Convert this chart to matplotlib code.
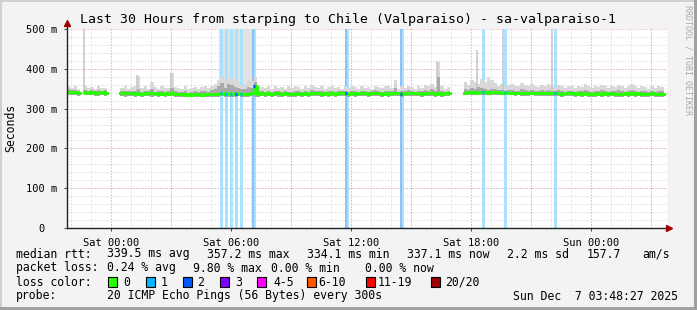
import numpy as np
import matplotlib
matplotlib.use('Agg')
import matplotlib.pyplot as plt
from matplotlib.patches import Rectangle

nan = np.nan

# ==============================
# data (10 minute bins, 30 hours, start Fri 21:48)
# ==============================
median = [341, 342, 341, 340, nan,
          341, 340, 341, 340, 339, 341, 340,
          nan, nan, nan, nan,
          339, 338, 339, 338, 337,
          338, 337, 338, 339, 338, 337, 338, 337, 338, 337,
          338, 337, 337, 336, 335, 336, 334, 336, 336, 335, 336, 337, 336, 337,
          337, 338, 336, 340, 337, 337, 338, 337, 336, 337, 339, 357, 337,
          338, 337, 338, 337, 338, 338, 337, 338, 337, 336, 337, 338, 337, 338, 337, 338, 339, 338, 337, 338, 337, 338, 337,
          338, 339, 338, 337, 338, 337, 338, 339, 338, 337, 338, 339, 338, 337, 338, 337, 338, 339, 338, 337,
          338, 339, 338, 339, 338, 337, 338, 339, 338, 337, 338, 337, 338, 338,
          nan, nan, nan, nan,
          340, 341, 341, 340, 341, 342, 341, 340, 341, 342, 341, 340, 341, 340,
          340, 339, 340, 339, 338, 339, 340, 339, 338, 339, 338, 339, 338, 339, 338, 337, 338, 339,
          338, 337, 338, 337, 338, 337, 336, 337, 338, 337, 338, 337, 338, 337, 336, 337, 338, 337, 338, 337, 338, 337, 336, 337, 338, 337, 336, 337,
          nan]

smoke_hi = [358, 352, 356, 350, nan,
            356, 352, 354, 350, 356, 352, 353,
            nan, nan, nan, nan,
            352, 356, 350, 355, 358,
            382, 352, 356, 350, 366, 354, 350, 356, 352, 351,
            390, 355, 352, 350, 356, 350, 352, 355, 350, 354, 356, 352, 358, 362,
            372, 380, 370, 378, 376, 372, 368, 360, 362, 372, 370, 380, 356,
            354, 352, 358, 350, 356, 352, 354, 350, 356, 352, 358, 354, 350, 356, 352, 360, 354, 352, 356, 350, 354, 358, 352,
            354, 350, 356, 352, 358, 354, 350, 356, 352, 354, 350, 358, 354, 352, 356, 356, 352, 372, 350, 356,
            352, 358, 354, 350, 356, 352, 360, 356, 362, 354, 418, 356, 350, 354,
            nan, nan, nan, nan,
            367, 360, 372, 368, 362, 374, 366, 380, 372, 364, 358, 362, 356, 360,
            362, 358, 356, 364, 360, 356, 362, 358, 354, 360, 356, 362, 358, 354, 360, 356, 352, 358,
            356, 352, 358, 354, 362, 356, 352, 358, 354, 360, 356, 352, 358, 354, 360, 356, 352, 358, 362, 356, 352, 358, 354, 350, 356, 352, 358, 354,
            nan]

smoke_mid = [348, 347, 346, 345, nan,
             347, 345, 346, 344, 346, 345, 346,
             nan, nan, nan, nan,
             344, 343, 345, 343, 344,
             350, 342, 344, 343, 348, 342, 343, 345, 342, 343,
             352, 343, 342, 341, 344, 340, 342, 344, 341, 343, 345, 342, 346, 350,
             358, 365, 352, 362, 360, 355, 352, 348, 350, 355, 352, 368, 344,
             344, 342, 345, 342, 344, 343, 342, 344, 342, 341, 343, 345, 342, 344, 342, 346, 344, 343, 344, 342, 343, 345, 342,
             343, 344, 345, 342, 344, 343, 342, 345, 343, 342, 343, 346, 344, 342, 344, 344, 343, 352, 342, 344,
             343, 346, 344, 342, 345, 343, 346, 344, 348, 343, 380, 344, 342, 343,
             nan, nan, nan, nan,
             350, 347, 352, 350, 355, 352, 348, 346, 350, 348, 346, 347, 345, 346,
             347, 345, 344, 348, 346, 344, 347, 345, 343, 346, 344, 347, 345, 343, 346, 344, 342, 345,
             344, 342, 345, 343, 346, 344, 342, 345, 343, 346, 344, 342, 345, 343, 346, 344, 342, 345, 347, 344, 342, 345, 343, 341, 344, 342, 345, 343,
             nan]

smoke_lo = [333, 334, 333, 332, nan,
            334, 333, 334, 332, 331, 333, 332,
            nan, nan, nan, nan,
            331, 330, 332, 331, 330,
            331, 330, 331, 332, 330, 331, 330, 331, 330, 331,
            331, 330, 329, 330, 328, 329, 328, 330, 329, 328, 329, 330, 329, 330,
            330, 331, 329, 330, 330, 329, 331, 330, 329, 330, 331, 330, 329,
            331, 330, 331, 330, 331, 330, 329, 331, 330, 329, 330, 331, 330, 331, 330, 331, 332, 331, 330, 331, 330, 331, 330,
            331, 332, 331, 330, 331, 330, 331, 332, 331, 330, 331, 332, 331, 330, 331, 330, 331, 332, 331, 330,
            331, 332, 331, 332, 331, 330, 331, 332, 331, 330, 331, 330, 331, 331,
            nan, nan, nan, nan,
            333, 334, 334, 333, 334, 335, 334, 333, 334, 335, 334, 333, 334, 333,
            333, 332, 333, 332, 331, 332, 333, 332, 331, 332, 331, 332, 331, 332, 331, 330, 331, 332,
            331, 330, 331, 330, 331, 330, 329, 330, 331, 330, 331, 330, 331, 330, 329, 330, 331, 330, 331, 330, 331, 330, 329, 330, 331, 330, 329, 330,
            nan]

# single tall outliers (hours, top in ms)
spike_t = [0.85, 3.5, 5.2, 18.5, 20.5, 21.8, 24.25]
spike_top = [520, 385, 390, 420, 447, 520, 520]

# region of very high rtt during loss
high_start, high_end = 7.6, 9.45

# loss bars (hours)
loss_start = [7.65, 7.90, 8.15, 8.40, 8.65, 9.25, 9.33, 13.90, 14.00, 16.65, 16.75, 20.75, 21.85, 24.35]
loss_end = [7.80, 8.05, 8.30, 8.55, 8.80, 9.33, 9.45, 14.00, 14.10, 16.75, 16.85, 20.90, 22.00, 24.50]
loss_fill = ['#a8e2ff', '#a8e2ff', '#a8e2ff', '#a8e2ff', '#a8e2ff', '#90bff8', '#a8e2ff',
             '#90bff8', '#a8e2ff', '#90bff8', '#a8e2ff', '#a8e2ff', '#a8e2ff', '#a8e2ff']

# median points with loss
loss_pt_t = [7.7, 7.95, 8.2, 8.45, 8.7, 9.35, 13.95, 16.7, 20.8, 21.9, 24.4]
loss_pt_c = ['#00b8ff', '#00b8ff', '#00b8ff', '#0059ff', '#00b8ff', '#0059ff',
             '#0059ff', '#0059ff', '#00b8ff', '#00b8ff', '#00b8ff']

tick_labels = ['Sat 00:00', 'Sat 06:00', 'Sat 12:00', 'Sat 18:00', 'Sun 00:00']
first_midnight = 2.1925
y_labels = ['0  ', '100 m', '200 m', '300 m', '400 m', '500 m']

title = 'Last 30 Hours from starping to Chile (Valparaiso) - sa-valparaiso-1'

legend_rows = [
    [(16, 'median rtt:'), (107, '339.5 ms avg'), (207, '357.2 ms max'), (307, '334.1 ms min'),
     (407, '337.1 ms now'), (507, '2.2 ms sd'), (587, '157.7'), (642, 'am/s')],
    [(16, 'packet loss:'), (107, '0.24 % avg'), (193, '9.80 % max'), (271, '0.00 % min'),
     (365, '0.00 % now')],
    [(16, 'loss color:')],
    [(16, 'probe:'), (107, '20 ICMP Echo Pings (56 Bytes) every 300s'),
     (513, 'Sun Dec  7 03:48:27 2025')],
]
legend_y = [254, 268, 282, 296]

loss_labels = ['0', '1', '2', '3', '4-5', '6-10', '11-19', '20/20']
loss_colors = ['#26ff00', '#00b8ff', '#0059ff', '#7e00ff', '#ff00ff', '#ff5500', '#ff0000', '#a10000']
box_x = [108, 146, 183, 220, 257, 307, 366, 431]
label_x = [123, 161, 197, 235, 273, 318, 378, 445]

# ==============================
# figure
# ==============================
W, H = 697, 310
MONO = 'DejaVu Sans Mono'


def fx(x):
    return x / W


def fy(y):
    return 1 - y / H


fig = plt.figure(figsize=(W / 100, H / 100), dpi=100, facecolor='#f3f3f3')
ax = fig.add_axes([fx(67), fy(228), 600 / W, 199 / H])
ax.set_facecolor('white')
ax.set_xlim(0, 30)
ax.set_ylim(0, 500)
for s in ax.spines.values():
    s.set_visible(False)

dot = (0, (1, 2))
for t in np.arange(first_midnight - 2, 30, 1):
    ax.axvline(t, color='#d0d0d0', lw=0.72, ls=dot, zorder=0)
for v in range(20, 500, 20):
    ax.axhline(v, color='#d0d0d0', lw=0.72, ls=dot, zorder=0)
for t in np.arange(first_midnight, 30, 3):
    ax.axvline(t, color='#e8a0a0', lw=0.72, ls=dot, zorder=0.5)
for v in range(100, 501, 100):
    ax.axhline(v, color='#e8a0a0', lw=0.72, ls=dot, zorder=0.5)

# very high rtt columns behind the loss bars
ax.fill_between([high_start, high_end], 335, 500, color='#e2e2e2', lw=0, zorder=0.8)

# loss background bars
for a, b, c in zip(loss_start, loss_end, loss_fill):
    ax.axvspan(a, b, color=c, lw=0, zorder=1)

# smoke
t = np.arange(len(median)) / 6.0
med = np.array(median, dtype=float)
hi = np.array(smoke_hi, dtype=float)
mid = np.array(smoke_mid, dtype=float)
lo = np.array(smoke_lo, dtype=float)

ax.bar(t, hi - lo, bottom=lo, width=1 / 6, align='edge', color='#d8d8d8', lw=0, zorder=2)
ax.bar(t, mid - lo, bottom=lo, width=1 / 6, align='edge', color='#a9a9a9', lw=0, zorder=2.1)
ax.vlines(spike_t, 340, spike_top, color='#c8c8c8', lw=1.2, zorder=2)

# median line
ax.plot(t + 1 / 12, med, color='#26ff00', lw=2.2, drawstyle='steps-mid', zorder=3)
for lt, lc in zip(loss_pt_t, loss_pt_c):
    ax.hlines(med[int(lt * 6)], lt - 0.07, lt + 0.07, color=lc, lw=2.4, zorder=3.5)

# axes
ax.plot([0, 30.05], [0, 0], color='#222222', lw=1, clip_on=False, zorder=4)
ax.plot([0, 0], [0, 512], color='#222222', lw=1, clip_on=False, zorder=4)
ax.plot([30.12], [0], marker='>', ms=4, color='#a00000', clip_on=False, zorder=5)
ax.plot([0], [514], marker='^', ms=4, color='#a00000', clip_on=False, zorder=5)

ax.set_xticks([first_midnight + 6 * k for k in range(5)])
ax.set_xticklabels(tick_labels, family=MONO, fontsize=7.5)
ax.set_yticks(range(0, 501, 100))
ax.set_yticklabels(y_labels, family=MONO, fontsize=7.5)
ax.tick_params(axis='both', length=2, width=0.7, color='#444444', pad=5)

# texts
fig.text(fx(348), fy(19), title, ha='center', va='center', fontsize=9.5, family=MONO)
fig.text(fx(11), fy(128), 'Seconds', rotation=90, ha='center', va='center', fontsize=8.3, family=MONO)
fig.text(fx(688), fy(60), 'RRDTOOL / TOBI OETIKER', rotation=270, ha='center', va='center',
         fontsize=6, family=MONO, color='#aaaaaa')

for row, y in zip(legend_rows, legend_y):
    for x, s in row:
        fig.text(fx(x), fy(y), s, ha='left', va='center', fontsize=8.3, family=MONO)

for bx, lx, lab, col in zip(box_x, label_x, loss_labels, loss_colors):
    fig.add_artist(Rectangle((fx(bx), fy(287)), 9 / W, 10 / H, transform=fig.transFigure,
                             facecolor=col, edgecolor='black', lw=0.8))
    fig.text(fx(lx), fy(282), lab, ha='left', va='center', fontsize=8.3, family=MONO)

# frame
fig.add_artist(Rectangle((0, fy(2)), 1, 2 / H, transform=fig.transFigure, color='#d0d0d0', lw=0))
fig.add_artist(Rectangle((0, 0), 2 / W, 1, transform=fig.transFigure, color='#d0d0d0', lw=0))
fig.add_artist(Rectangle((fx(694), 0), 3 / W, 1, transform=fig.transFigure, color='#a0a0a0', lw=0))
fig.add_artist(Rectangle((0, 0), 1, 3 / H, transform=fig.transFigure, color='#a0a0a0', lw=0))

fig.savefig('out.png', dpi=100, facecolor=fig.get_facecolor())
